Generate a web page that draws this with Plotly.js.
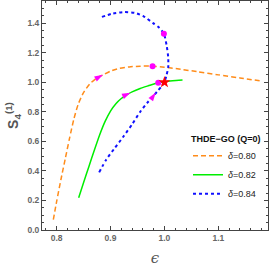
<!DOCTYPE html>
<html>
<head>
<meta charset="utf-8">
<script src="https://cdn.plot.ly/plotly-3.0.1.min.js"></script>
<style>html,body{margin:0;padding:0;background:#fff;}#chart{width:273px;height:273px;}</style>
</head>
<body>
<div id="chart"></div>
<script>
// δ = 0.80 (orange dashed)
const eps080 = [0.794, 0.800, 0.808, 0.816, 0.824, 0.832, 0.840, 0.850, 0.862, 0.875, 0.886, 0.900, 0.917, 0.935, 0.955, 0.978, 1.000, 1.030, 1.060, 1.100, 1.140, 1.180];
const s080   = [0.07, 0.19, 0.34, 0.48, 0.62, 0.75, 0.85, 0.93, 0.99, 1.03, 1.05, 1.075, 1.094, 1.104, 1.109, 1.109, 1.102, 1.088, 1.072, 1.050, 1.029, 1.008];
// δ = 0.82 (green solid)
const eps082 = [0.841, 0.850, 0.860, 0.870, 0.880, 0.890, 0.900, 0.910, 0.920, 0.930, 0.940, 0.955, 0.970, 0.9885, 1.000, 1.015, 1.0335];
const s082   = [0.218, 0.32, 0.43, 0.54, 0.645, 0.735, 0.805, 0.855, 0.89, 0.915, 0.935, 0.958, 0.976, 0.997, 1.003, 1.010, 1.015];
// δ = 0.84 (blue dotted)
const eps084 = [0.879, 0.892, 0.908, 0.924, 0.940, 0.955, 0.968, 0.978, 0.986, 0.994, 1.000, 1.004, 1.007, 1.007, 1.004, 0.999, 0.990, 0.979, 0.962, 0.945, 0.925, 0.905, 0.883];
const s084   = [0.39, 0.476, 0.555, 0.633, 0.715, 0.80, 0.86, 0.90, 0.935, 0.97, 1.003, 1.05, 1.10, 1.17, 1.25, 1.329, 1.37, 1.400, 1.445, 1.470, 1.475, 1.466, 1.441];
// direction arrows (eps, S, angle)
const arrowEps = [0.886, 0.937, 0.984];
const arrowS   = [1.050, 0.929, 0.930];
const arrowAng = [61, 65, 36];
// present-day points
const dotEps = [0.978, 0.999, 0.9885];
const dotS   = [1.109, 1.329, 0.997];
// de Sitter point
const starEps = [1.0];
const starS   = [1.0];
const legendTitle = "<b>THDE\u2212GO (Q=0)</b>";
const names = ["<i>\u03b4</i>=0.80", "<i>\u03b4</i>=0.82", "<i>\u03b4</i>=0.84"];

const traces = [
  {x: eps080, y: s080, mode: 'lines', name: names[0], line: {color: '#FF8C1A', width: 1.5, dash: '5px,3px', shape: 'spline', smoothing: 0.6}},
  {x: eps082, y: s082, mode: 'lines', name: names[1], line: {color: '#00EE00', width: 1.5, shape: 'spline', smoothing: 0.6}},
  {x: eps084, y: s084, mode: 'lines', name: names[2], line: {color: '#1010FF', width: 2, dash: 'dot', shape: 'spline', smoothing: 0.6}},
  {x: arrowEps, y: arrowS, mode: 'markers', showlegend: false,
   marker: {symbol: 'arrow', size: 9, color: '#FF00FF', angle: arrowAng, line: {width: 0}}},
  {x: dotEps, y: dotS, mode: 'markers', showlegend: false,
   marker: {symbol: 'circle', size: 6, color: '#FF00FF'}},
  {x: starEps, y: starS, mode: 'markers', showlegend: false,
   marker: {symbol: 'star', size: 9, color: '#FF0000'}}
];

const tickFont = {family: 'Liberation Sans, Arial, sans-serif', size: 8.5, color: '#666', weight: 'bold'};
const layout = {
  width: 273, height: 273,
  margin: {l: 42, r: 5, t: 1, b: 43},
  paper_bgcolor: '#fff', plot_bgcolor: '#fff',
  showlegend: true,
  xaxis: {
    range: [0.773, 1.192], dtick: 0.1, tick0: 0.8, tickformat: '.1f',
    ticks: 'inside', ticklen: 4, tickcolor: '#444', mirror: 'allticks',
    showline: true, linecolor: '#444', linewidth: 1, showgrid: false, zeroline: false,
    minor: {ticks: 'inside', dtick: 0.02, ticklen: 2, tickcolor: '#444'},
    tickfont: tickFont,
    title: {text: '<i>\u03f5</i>', font: {family: 'DejaVu Serif, serif', size: 15, color: '#555'}, standoff: 10}
  },
  yaxis: {
    range: [0, 1.55], dtick: 0.2, tick0: 0, tickformat: '.1f',
    ticks: 'inside', ticklen: 4, tickcolor: '#444', mirror: 'allticks',
    showline: true, linecolor: '#444', linewidth: 1, showgrid: false, zeroline: false,
    minor: {ticks: 'inside', dtick: 0.05, ticklen: 2, tickcolor: '#444'},
    tickfont: tickFont,
    title: {text: '<b>S<sub>4</sub><sup>(1)</sup></b>', font: {family: 'Liberation Sans, Arial, sans-serif', size: 14, color: '#555'}, standoff: 5}
  },
  legend: {
    x: 0.646, y: 0.388, xanchor: 'left', yanchor: 'top',
    bgcolor: 'rgba(0,0,0,0)', borderwidth: 0,
    font: {family: 'Liberation Sans, Arial, sans-serif', size: 9, color: '#222'},
    tracegroupgap: 0
  },
  annotations: [{
    text: legendTitle, xref: 'paper', yref: 'paper', x: 0.652, y: 0.366,
    xanchor: 'left', yanchor: 'bottom', showarrow: false,
    font: {family: 'Liberation Sans, Arial, sans-serif', size: 9, color: '#111'}
  }]
};
Plotly.newPlot('chart', traces, layout, {displayModeBar: false, staticPlot: true});
</script>
</body>
</html>
